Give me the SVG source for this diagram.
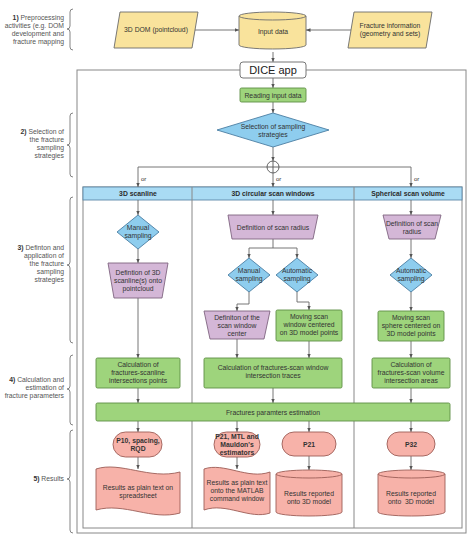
<svg xmlns="http://www.w3.org/2000/svg" width="474" height="540" viewBox="0 0 474 540">
<defs>
<marker id="ah" viewBox="0 0 6 6" refX="6" refY="3" markerWidth="5" markerHeight="5" orient="auto">
<path d="M0,0.5 L6,3 L0,5.5 Z" fill="#555"/>
</marker>
<style>
text{font-family:"Liberation Sans",Arial,sans-serif;font-size:6.8px;fill:#333;text-anchor:middle}
.lbl{fill:#555;text-anchor:end;font-size:6.8px}
.lbl tspan.b{font-weight:bold;fill:#333}
.b{font-weight:bold}
.hd{font-weight:bold;font-size:6.8px;fill:#2b2b2b}
.con{fill:none;stroke:#666;stroke-width:0.9}
.arr{fill:none;stroke:#666;stroke-width:0.9;marker-end:url(#ah)}
.brace{fill:none;stroke:#777;stroke-width:0.9}
.yel{fill:#F9E39C;stroke:#6b6b6b;stroke-width:0.9}
.grn{fill:#9ED47C;stroke:#5f8f45;stroke-width:0.9}
.blu{fill:#8ECDEE;stroke:#4b7ea3;stroke-width:0.9}
.pur{fill:#D4B7D7;stroke:#7f6480;stroke-width:0.9}
.pnk{fill:#F7B2A9;stroke:#9c5e57;stroke-width:0.9}
.hdr{fill:#A9DBF4;stroke:#5b88a8;stroke-width:0.9}
.frame{fill:none;stroke:#888;stroke-width:1}
</style>
</defs>
<rect width="474" height="540" fill="#fff"/>

<!-- left labels -->
<g id="labels">
<text class="lbl" x="64" y="20"><tspan class="b">1)</tspan> Preprocessing</text>
<text class="lbl" x="64" y="28">activities (e.g. DOM</text>
<text class="lbl" x="64" y="36">development and</text>
<text class="lbl" x="64" y="44">fracture mapping</text>
<path class="brace" d="M73,9 Q70,9 70,12 L70,26 Q70,29 67,29 Q70,29 70,32 L70,47 Q70,50 73,50"/>

<text class="lbl" x="64" y="134"><tspan class="b">2)</tspan> Selection of</text>
<text class="lbl" x="64" y="142">the fracture</text>
<text class="lbl" x="64" y="150">sampling</text>
<text class="lbl" x="64" y="158">strategies</text>
<path class="brace" d="M73,113 Q70,113 70,116 L70,142 Q70,145 67,145 Q70,145 70,148 L70,174 Q70,177 73,177"/>

<text class="lbl" x="64" y="250"><tspan class="b">3)</tspan> Definton and</text>
<text class="lbl" x="64" y="258">application of</text>
<text class="lbl" x="64" y="266">the fracture</text>
<text class="lbl" x="64" y="274">sampling</text>
<text class="lbl" x="64" y="282">strategies</text>
<path class="brace" d="M73,197 Q70,197 70,200 L70,262 Q70,265 67,265 Q70,265 70,268 L70,340 Q70,343 73,343"/>

<text class="lbl" x="64" y="382"><tspan class="b">4)</tspan> Calculation and</text>
<text class="lbl" x="64" y="390">estimation of</text>
<text class="lbl" x="64" y="398">fracture parameters</text>
<path class="brace" d="M73,355 Q70,355 70,358 L70,386 Q70,389 67,389 Q70,389 70,392 L70,422 Q70,425 73,425"/>

<text class="lbl" x="64" y="481"><tspan class="b">5)</tspan> Results</text>
<path class="brace" d="M73,430 Q70,430 70,433 L70,476 Q70,479 67,479 Q70,479 70,482 L70,530 Q70,533 73,533"/>
</g>

<!-- frames -->
<g id="frames">
<rect class="frame" x="77" y="70" width="389" height="463"/>
<rect x="83" y="187" width="379" height="341" fill="#fff" stroke="#888" stroke-width="1"/>
<rect class="hdr" x="83" y="187" width="379" height="13"/>
<line x1="192" y1="187" x2="192" y2="528" stroke="#888" stroke-width="1"/>
<line x1="354" y1="187" x2="354" y2="528" stroke="#888" stroke-width="1"/>
<text class="hd" x="138" y="196">3D scanline</text>
<text class="hd" x="273" y="196">3D circular scan windows</text>
<text class="hd" x="408" y="196">Spherical scan volume</text>
</g>

<!-- connectors -->
<g id="connectors">
<line class="arr" x1="195" y1="30" x2="239" y2="30"/>
<line class="arr" x1="351" y1="30" x2="306" y2="30"/>
<line class="arr" x1="273" y1="52" x2="273" y2="62"/>
<line class="arr" x1="273" y1="78" x2="273" y2="88"/>
<line class="arr" x1="273" y1="102" x2="273" y2="113"/>
<line class="arr" x1="273" y1="147" x2="273" y2="161"/>
<path class="con" d="M267,167 L138,167 M279,167 L411,167"/>
<line class="arr" x1="138" y1="167" x2="138" y2="187"/>
<line class="arr" x1="273" y1="173" x2="273" y2="187"/>
<line class="arr" x1="411" y1="167" x2="411" y2="187"/>
<text x="141" y="181" style="text-anchor:start;font-size:6px">or</text>
<text x="276" y="181" style="text-anchor:start;font-size:6px">or</text>
<text x="414" y="181" style="text-anchor:start;font-size:6px">or</text>

<!-- col1 -->
<line class="arr" x1="138" y1="200" x2="138" y2="215"/>
<line class="arr" x1="138" y1="249" x2="138" y2="263"/>
<line class="arr" x1="138" y1="298" x2="138" y2="358"/>
<line class="arr" x1="138" y1="388" x2="138" y2="403"/>
<!-- col2 -->
<line class="arr" x1="273" y1="200" x2="273" y2="215"/>
<path class="con" d="M273,239 L273,248 M249,248 L297,248"/>
<line class="arr" x1="249" y1="248" x2="249" y2="258"/>
<line class="arr" x1="297" y1="248" x2="297" y2="258"/>
<path class="arr" d="M249,292 L249,304 L237,304 L237,311"/>
<path class="arr" d="M297,292 L297,302 L309,302 L309,310"/>
<line class="arr" x1="237" y1="339" x2="237" y2="358"/>
<line class="arr" x1="309" y1="341" x2="309" y2="358"/>
<line class="arr" x1="273" y1="388" x2="273" y2="403"/>
<!-- col3 -->
<line class="arr" x1="411" y1="200" x2="411" y2="215"/>
<line class="arr" x1="411" y1="239" x2="411" y2="258"/>
<line class="arr" x1="411" y1="292" x2="411" y2="311"/>
<line class="arr" x1="411" y1="341" x2="411" y2="358"/>
<line class="arr" x1="411" y1="388" x2="411" y2="403"/>
<!-- results -->
<line class="arr" x1="138" y1="421" x2="138" y2="432"/>
<line class="arr" x1="237" y1="421" x2="237" y2="432"/>
<line class="arr" x1="309" y1="421" x2="309" y2="432"/>
<line class="arr" x1="411" y1="421" x2="411" y2="432"/>
<line class="arr" x1="138" y1="457" x2="138" y2="469"/>
<line class="arr" x1="237" y1="457" x2="237" y2="469"/>
<line class="arr" x1="309" y1="456" x2="309" y2="470"/>
<line class="arr" x1="411" y1="456" x2="411" y2="470"/>
</g>

<!-- top nodes -->
<g id="dom">
<polygon class="yel" points="120,12 198,12 192,48 114,48"/>
<text x="156" y="32">3D DOM (pointcloud)</text>
</g>
<g id="input">
<path class="yel" d="M239,16 A33.5,4 0 0 1 306,16 L306,45 A33.5,4 0 0 1 239,45 Z"/>
<path d="M239,16 A33.5,4 0 0 0 306,16" fill="none" stroke="#6b6b6b" stroke-width="0.9"/>
<text x="273" y="34">Input data</text>
</g>
<g id="fracinfo">
<polygon class="yel" points="354,12 432,12 426,48 348,48"/>
<text x="390" y="28">Fracture information</text>
<text x="390" y="36">(geometry and sets)</text>
</g>
<g id="dice">
<rect x="240" y="62" width="66" height="16" rx="3" fill="#fff" stroke="#777" stroke-width="1"/>
<text x="273" y="74" style="font-size:11px;fill:#222">DICE app</text>
</g>
<g id="reading">
<rect class="grn" x="240" y="88" width="66" height="14" rx="1.5"/>
<text x="273" y="97.5">Reading input data</text>
</g>
<g id="selection">
<polygon class="blu" points="273,113 329,130 273,147 217,130"/>
<text x="273" y="129">Selection of sampling</text>
<text x="273" y="137">strategies</text>
</g>
<g id="orgate">
<circle cx="273" cy="167" r="6" fill="#fff" stroke="#555" stroke-width="0.9"/>
<path d="M267,167 L279,167 M273,161 L273,173" stroke="#555" stroke-width="0.9"/>
</g>

<!-- column 1 -->
<g id="manual1">
<polygon class="blu" points="138,215 159,232 138,249 117,232"/>
<text x="138" y="230">Manual</text>
<text x="138" y="238">sampling</text>
</g>
<g id="defscanline">
<polygon class="pur" points="108,263 168,263 162,298 114,298"/>
<text x="138" y="275">Defintion of 3D</text>
<text x="138" y="283">scanline(s) onto</text>
<text x="138" y="291">pointcloud</text>
</g>
<g id="calc1">
<rect class="grn" x="96" y="358" width="84" height="30" rx="1.5"/>
<text x="138" y="367">Calculation of</text>
<text x="138" y="375">fractures-scanline</text>
<text x="138" y="383">intersections points</text>
</g>

<!-- column 2 -->
<g id="radius2">
<polygon class="pur" points="228,215 318,215 313,239 232,239"/>
<text x="273" y="229.5">Definition of scan radius</text>
</g>
<g id="manual2">
<polygon class="blu" points="249,258 270,275 249,292 228,275"/>
<text x="249" y="273">Manual</text>
<text x="249" y="281">sampling</text>
</g>
<g id="auto2">
<polygon class="blu" points="297,258 318,275 297,292 276,275"/>
<text x="297" y="273">Automatic</text>
<text x="297" y="281">sampling</text>
</g>
<g id="defcenter">
<polygon class="pur" points="204,311 270,311 264,339 210,339"/>
<text x="237" y="320">Definiton of the</text>
<text x="237" y="328">scan window</text>
<text x="237" y="336">center</text>
</g>
<g id="moving2">
<rect class="grn" x="276" y="310" width="66" height="31" rx="1.5"/>
<text x="309" y="319">Moving scan</text>
<text x="309" y="327">window centered</text>
<text x="309" y="335">on 3D model points</text>
</g>
<g id="calc2">
<rect class="grn" x="204" y="358" width="138" height="30" rx="1.5"/>
<text x="273" y="370">Calculation of fractures-scan window</text>
<text x="273" y="378">intersection traces</text>
</g>

<!-- column 3 -->
<g id="radius3">
<polygon class="pur" points="383,215 441,215 435,239 389,239"/>
<text x="412" y="226">Definition of scan</text>
<text x="412" y="234">radius</text>
</g>
<g id="auto3">
<polygon class="blu" points="411,258 432,275 411,292 390,275"/>
<text x="411" y="273">Automatic</text>
<text x="411" y="281">sampling</text>
</g>
<g id="moving3">
<rect class="grn" x="378" y="311" width="66" height="30" rx="1.5"/>
<text x="411" y="319.5">Moving scan</text>
<text x="411" y="327.5">sphere centered on</text>
<text x="411" y="335.5">3D model points</text>
</g>
<g id="calc3">
<rect class="grn" x="372" y="358" width="78" height="30" rx="1.5"/>
<text x="411" y="367">Calculation of</text>
<text x="411" y="375">fractures-scan volume</text>
<text x="411" y="383">intersection areas</text>
</g>

<!-- estimation bar -->
<g id="estimation">
<rect class="grn" x="96" y="403" width="354" height="18" rx="1.5"/>
<text x="273" y="414.5">Fractures paramters estimation</text>
</g>

<!-- results -->
<g id="p10">
<rect class="pnk" x="113" y="432" width="49" height="25" rx="12.5"/>
<text class="b" x="138" y="443">P10, spacing,</text>
<text class="b" x="138" y="451">RQD</text>
</g>
<g id="p21mtl">
<rect class="pnk" x="214" y="432" width="46" height="25" rx="12.5"/>
<text class="b" x="237" y="439">P21, MTL and</text>
<text class="b" x="237" y="447">Mauldon's</text>
<text class="b" x="237" y="455">estimators</text>
</g>
<g id="p21">
<rect class="pnk" x="282" y="432" width="54" height="24" rx="12"/>
<text class="b" x="309" y="446.5">P21</text>
</g>
<g id="p32">
<rect class="pnk" x="387" y="432" width="48" height="24" rx="12"/>
<text class="b" x="411" y="446.5">P32</text>
</g>
<g id="doc1">
<path class="pnk" d="M96,469 C120,461 150,480 180,472 L180,513 C152,521 124,502 96,510 Z"/>
<text x="138" y="490">Results as plain text on</text>
<text x="138" y="498">spreadsheet</text>
</g>
<g id="doc2">
<path class="pnk" d="M204,469 C224,462 248,480 270,472 L270,513 C250,520 226,502 204,510 Z"/>
<text x="237" y="485">Results as plain text</text>
<text x="237" y="493">onto the MATLAB</text>
<text x="237" y="501">command window</text>
</g>
<g id="cyl21">
<path class="pnk" d="M276,474 A33,4 0 0 1 342,474 L342,512 A33,4 0 0 1 276,512 Z"/>
<path d="M276,474 A33,4 0 0 0 342,474" fill="none" stroke="#9c5e57" stroke-width="0.9"/>
<text x="309" y="496">Results reported</text>
<text x="309" y="504">onto 3D model</text>
</g>
<g id="cyl32">
<path class="pnk" d="M378,474 A33.5,4 0 0 1 445,474 L445,512 A33.5,4 0 0 1 378,512 Z"/>
<path d="M378,474 A33.5,4 0 0 0 445,474" fill="none" stroke="#9c5e57" stroke-width="0.9"/>
<text x="411" y="496">Results reported</text>
<text x="411" y="504" xml:space="preserve">onto  3D model</text>
</g>
</svg>
